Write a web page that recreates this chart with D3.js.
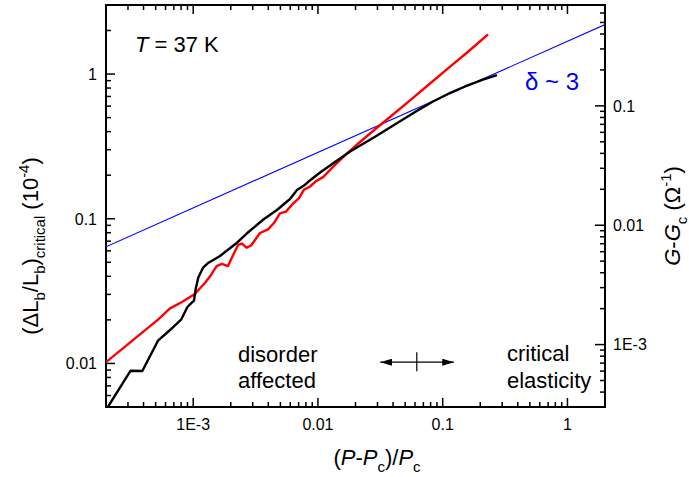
<!DOCTYPE html>
<html>
<head>
<meta charset="utf-8">
<script src="https://cdn.jsdelivr.net/npm/d3@7"></script>
<style>
  body { margin: 0; background: #fff; }
  text { font-family: "Liberation Sans", Arial, sans-serif; fill: #000; }
</style>
</head>
<body>
<svg id="chart" width="689" height="477"></svg>
<script>
// Critical strain (left axis, 10^-4) vs reduced pressure
const strainX = [2.0e-4, 3.42e-4, 5.22e-4, 6.52e-4, 8.13e-4, 1.03e-3, 1.24e-3, 1.39e-3, 1.54e-3, 1.70e-3,
  1.90e-3, 2.09e-3, 2.29e-3, 2.46e-3, 2.68e-3, 2.91e-3, 3.43e-3, 3.98e-3, 4.44e-3, 4.96e-3,
  5.54e-3, 6.19e-3, 7.05e-3, 7.73e-3, 8.64e-3, 9.65e-3, 0.0110, 0.0132, 0.0159, 0.0206,
  0.0276, 0.0378, 0.0547, 0.0836, 0.114, 0.157, 0.231];
const strainY = [0.0102, 0.0149, 0.0201, 0.0240, 0.0266, 0.0302, 0.0360, 0.0409, 0.0471, 0.0487,
  0.0471, 0.0562, 0.0659, 0.0674, 0.0631, 0.0653, 0.0797, 0.0845, 0.0935, 0.109,
  0.112, 0.125, 0.139, 0.159, 0.167, 0.182, 0.194, 0.228, 0.267, 0.326,
  0.404, 0.505, 0.657, 0.895, 1.122, 1.409, 1.88];

// Conductance G - Gc (right axis, 1/Ohm) vs reduced pressure
const condX = [2.07e-4, 3.15e-4, 3.91e-4, 5.22e-4, 6.80e-4, 8.03e-4, 8.97e-4, 9.43e-4, 1.015e-3, 1.047e-3,
  1.099e-3, 1.205e-3, 1.314e-3, 1.449e-3, 1.64e-3, 1.97e-3, 2.245e-3, 2.70e-3, 3.65e-3, 4.69e-3,
  5.97e-3, 6.79e-3, 7.73e-3, 8.32e-3, 0.0104, 0.0137, 0.0181, 0.0287, 0.0378, 0.0517,
  0.0658, 0.0836, 0.0951, 0.114, 0.157, 0.210, 0.272];
const condY = [3.0e-4, 6.04e-4, 6.0e-4, 1.078e-3, 1.377e-3, 1.628e-3, 2.053e-3, 2.175e-3, 2.331e-3, 2.92e-3,
  3.65e-3, 4.44e-3, 4.82e-3, 5.11e-3, 5.52e-3, 6.41e-3, 7.14e-3, 8.56e-3, 0.01117, 0.01341,
  0.01658, 0.01972, 0.0215, 0.02301, 0.02764, 0.03385, 0.04146, 0.0551, 0.0659, 0.0807,
  0.0941, 0.1088, 0.1163, 0.1281, 0.1481, 0.1662, 0.1813];

// Power-law fit (right axis)
const fitX = [2e-4, 2];
const fitY = [0.0066, 0.48];

// Axis ticks
const xMajor = [1e-3, 1e-2, 1e-1, 1];
const xLabels = ["1E-3", "0.01", "0.1", "1"];
const leftMajor = [0.01, 0.1, 1];
const leftLabels = ["0.01", "0.1", "1"];
const rightMajor = [1e-3, 0.01, 0.1];
const rightLabels = ["1E-3", "0.01", "0.1"];

const svg = d3.select("#chart");
const L = 106, R = 605, T = 5, B = 407;

const x = d3.scaleLog().domain([2e-4, 2]).range([L, R]);
const yL = d3.scaleLog().domain([0.005, 3]).range([B, T]);
const yR = d3.scaleLog().domain([3e-4, 0.7]).range([B, T]);

function minorTicks(scale) {
  const [a, b] = scale.domain();
  const out = [];
  for (let e = Math.floor(Math.log10(a)); e <= Math.ceil(Math.log10(b)); e++) {
    for (let k = 2; k <= 9; k++) {
      const v = k * Math.pow(10, e);
      if (v > a * 1.001 && v < b * 0.999) out.push(v);
    }
  }
  return out;
}

svg.append("defs").append("clipPath").attr("id", "plot")
  .append("rect").attr("x", L).attr("y", T).attr("width", R - L).attr("height", B - T);

const ticks = svg.append("g").attr("stroke", "#000").attr("stroke-width", 1.5);
function hTicks(vals, len, yPos, dir) {
  ticks.selectAll(null).data(vals).join("line")
    .attr("x1", d => x(d)).attr("x2", d => x(d))
    .attr("y1", yPos).attr("y2", yPos + dir * len);
}
function vTicks(scale, vals, len, xPos, dir) {
  ticks.selectAll(null).data(vals).join("line")
    .attr("y1", d => scale(d)).attr("y2", d => scale(d))
    .attr("x1", xPos).attr("x2", xPos + dir * len);
}
// Bottom & top (ticks point into the plot)
hTicks(minorTicks(x), 5, B, -1);
hTicks(xMajor, 9, B, -1);
hTicks(minorTicks(x), 5, T, 1);
hTicks(xMajor, 9, T, 1);
// Left
vTicks(yL, minorTicks(yL), 5, L, 1);
vTicks(yL, leftMajor, 9, L, 1);
// Right
vTicks(yR, minorTicks(yR), 5, R, -1);
vTicks(yR, rightMajor, 10, R, -1);

// Tick labels
svg.append("g").selectAll("text").data(xMajor).join("text")
  .attr("x", d => x(d)).attr("y", 430).attr("text-anchor", "middle").attr("font-size", 16)
  .text((d, i) => xLabels[i]);
svg.append("g").selectAll("text").data(leftMajor).join("text")
  .attr("x", 97).attr("y", d => yL(d)).attr("dy", "0.36em").attr("text-anchor", "end").attr("font-size", 16)
  .text((d, i) => leftLabels[i]);
svg.append("g").selectAll("text").data(rightMajor).join("text")
  .attr("x", 613).attr("y", d => yR(d)).attr("dy", "0.36em").attr("font-size", 16)
  .text((d, i) => rightLabels[i]);

// Frame
svg.append("rect").attr("x", L).attr("y", T).attr("width", R - L).attr("height", B - T)
  .attr("fill", "none").attr("stroke", "#000").attr("stroke-width", 2);

const plot = svg.append("g").attr("clip-path", "url(#plot)");

// Fit line
plot.append("path")
  .attr("d", d3.line().x(d => x(d[0])).y(d => yR(d[1]))(d3.zip(fitX, fitY)))
  .attr("fill", "none").attr("stroke", "#0000ff").attr("stroke-width", 1.1);

// Strain data
plot.append("path")
  .attr("d", d3.line().x(d => x(d[0])).y(d => yL(d[1]))(d3.zip(strainX, strainY)))
  .attr("fill", "none").attr("stroke", "#ff0000").attr("stroke-width", 2.4)
  .attr("stroke-linejoin", "round");

// Conductance data
plot.append("path")
  .attr("d", d3.line().x(d => x(d[0])).y(d => yR(d[1]))(d3.zip(condX, condY)))
  .attr("fill", "none").attr("stroke", "#000").attr("stroke-width", 2.4)
  .attr("stroke-linejoin", "round");

// Rich text helper: parts of [text, {italic, sub, sup}]
function rich(g, parts, size) {
  const t = g.append("text").attr("font-size", size);
  let off = 0;
  parts.forEach(([s, o = {}]) => {
    let target = 0, fs = size;
    if (o.sub) { target = size * 0.33; fs = size * 0.68; }
    if (o.sup) { target = -size * 0.42; fs = size * 0.68; }
    t.append("tspan").text(s)
      .attr("dy", target - off)
      .attr("font-size", fs)
      .attr("font-style", o.italic ? "italic" : null);
    off = target;
  });
  return t;
}

// Annotations
rich(svg.append("g").attr("transform", "translate(135,52)"),
  [["T", { italic: true }], [" = 37 K"]], 22);

svg.append("text").attr("x", 525).attr("y", 90).attr("font-size", 24)
  .style("fill", "#0000ff").text("δ ~ 3");

svg.append("text").attr("x", 238).attr("y", 362).attr("font-size", 22).text("disorder");
svg.append("text").attr("x", 238).attr("y", 388).attr("font-size", 22).text("affected");
svg.append("text").attr("x", 507).attr("y", 361).attr("font-size", 22).text("critical");
svg.append("text").attr("x", 507).attr("y", 388).attr("font-size", 22).text("elasticity");

// Crossover marker: double arrow with a vertical bar
const arrowY = yL(0.0102);
const defs = svg.select("defs");
defs.append("marker").attr("id", "head").attr("viewBox", "0 0 10 6")
  .attr("refX", 10).attr("refY", 3).attr("markerWidth", 12).attr("markerHeight", 7)
  .attr("markerUnits", "userSpaceOnUse").attr("orient", "auto-start-reverse")
  .append("path").attr("d", "M0,0 L10,3 L0,6 Z").attr("fill", "#000");
svg.append("line")
  .attr("x1", x(0.0316)).attr("x2", x(0.123)).attr("y1", arrowY).attr("y2", arrowY)
  .attr("stroke", "#000").attr("stroke-width", 1.2)
  .attr("marker-start", "url(#head)").attr("marker-end", "url(#head)");
svg.append("line")
  .attr("x1", x(0.062)).attr("x2", x(0.062)).attr("y1", arrowY - 10).attr("y2", arrowY + 9)
  .attr("stroke", "#000").attr("stroke-width", 1.2);

// Axis titles
rich(svg.append("g").attr("transform", "translate(377,465)"),
  [["(", {}], ["P", { italic: true }], ["-", {}], ["P", { italic: true }], ["c", { sub: true }],
   [")/", {}], ["P", { italic: true }], ["c", { sub: true }]], 22)
  .attr("text-anchor", "middle");

rich(svg.append("g").attr("transform", "translate(38,246) rotate(-90)"),
  [["(ΔL", {}], ["b", { sub: true }], ["/", {}], ["L", {}], ["b", { sub: true }], [")", {}],
   ["critical", { sub: true }], [" (10", {}], ["-4", { sup: true }], [")", {}]], 22)
  .attr("text-anchor", "middle");

rich(svg.append("g").attr("transform", "translate(680,216) rotate(-90)"),
  [["G", { italic: true }], ["-", {}], ["G", { italic: true }], ["c", { sub: true }],
   [" (Ω", {}], ["-1", { sup: true }], [")", {}]], 22)
  .attr("text-anchor", "middle");
</script>
</body>
</html>
